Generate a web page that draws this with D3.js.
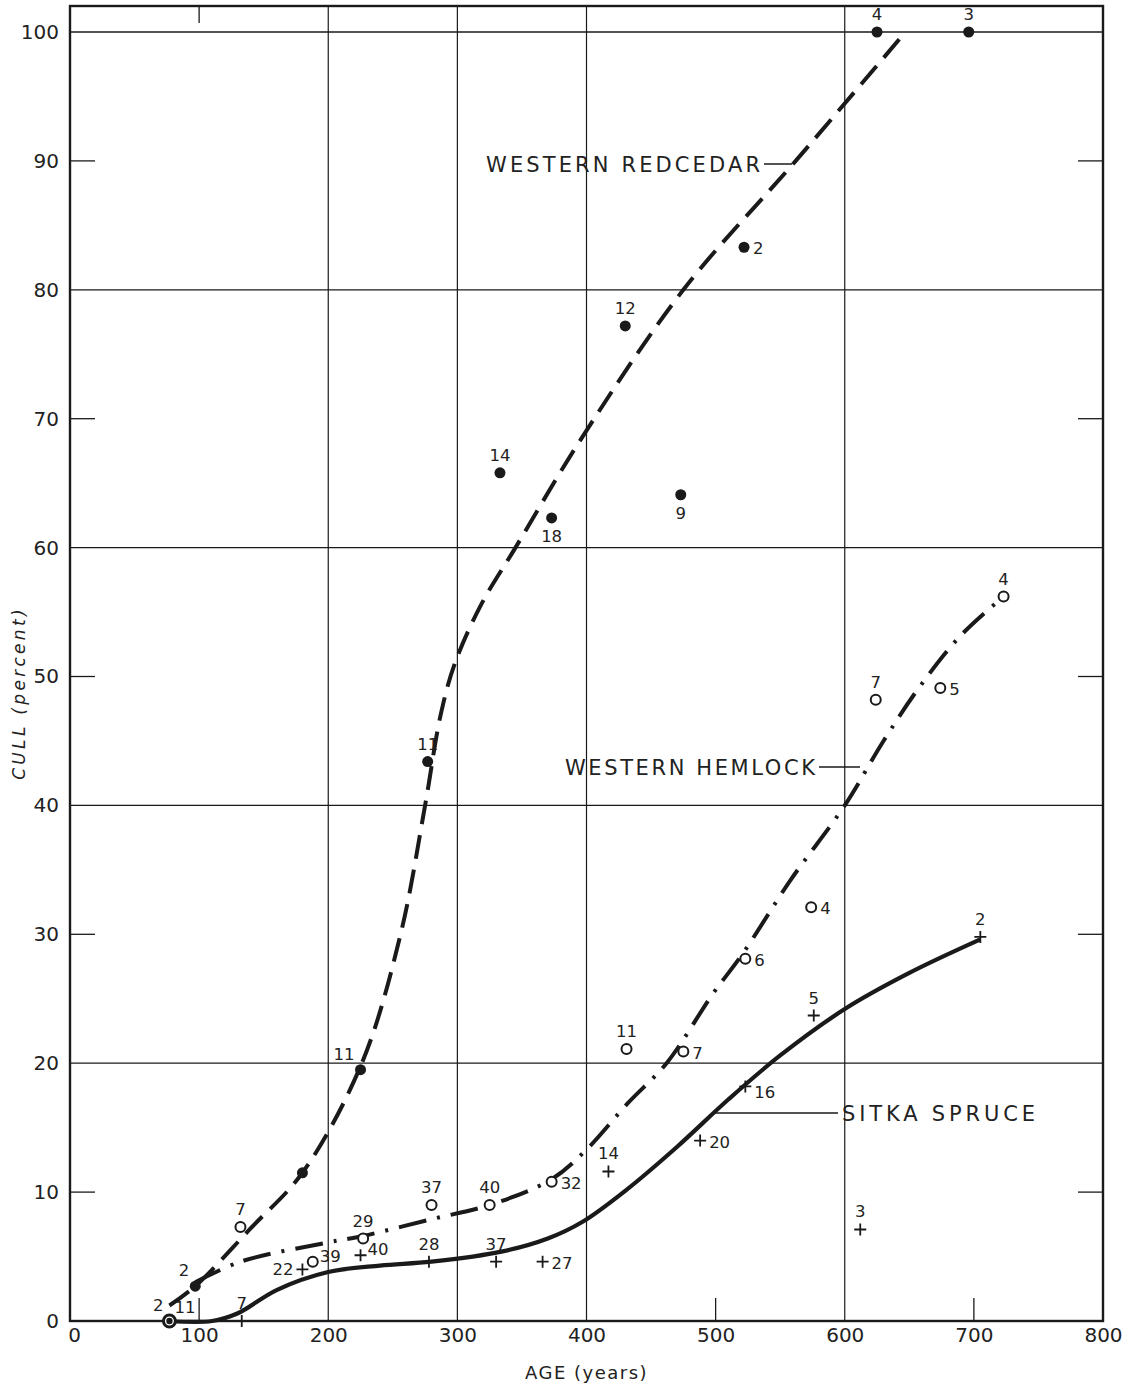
<!DOCTYPE html>
<html>
<head>
<meta charset="utf-8">
<script src="https://cdn.jsdelivr.net/npm/d3@7"></script>
<style>
  body { margin: 0; background: #fff; }
  text { font-family: "DejaVu Sans", sans-serif; fill: #222; }
</style>
</head>
<body>
<div id="chart"></div>
<script>
// observed points: [age, cull, trees]
const cedarPoints = [[77, 0, "2"], [97, 2.7, "2"], [180, 11.5, ""], [225, 19.5, "11"], [277, 43.4, "11"],
  [333, 65.8, "14"], [373, 62.3, "18"], [430, 77.2, "12"], [473, 64.1, "9"], [522, 83.3, "2"],
  [625, 100, "4"], [696, 100, "3"]];
const hemlockPoints = [[77, 0, "11"], [132, 7.3, "7"], [188, 4.6, "39"], [227, 6.4, "29"], [280, 9.0, "37"],
  [325, 9.0, "40"], [373, 10.8, "32"], [431, 21.1, "11"], [475, 20.9, "7"], [523, 28.1, "6"],
  [574, 32.1, "4"], [624, 48.2, "7"], [674, 49.1, "5"], [723, 56.2, "4"]];
const sprucePoints = [[133, 0, "7"], [180, 4.0, "22"], [225, 5.1, "40"], [278, 4.6, "28"], [330, 4.6, "37"],
  [366, 4.6, "27"], [417, 11.6, "14"], [488, 14.0, "20"], [523, 18.2, "16"], [576, 23.7, "5"],
  [612, 7.1, "3"], [705, 29.8, "2"]];

// label placement per point (same order as the points)
const cedarLabelPos = ["aboveLeft", "aboveLeft", "none", "aboveLeft", "above", "above", "below", "above", "below", "right", "above", "above"];
const hemlockLabelPos = ["aboveRight", "above", "rightHigh", "above", "above", "above", "right", "above", "right", "right", "right", "above", "right", "above"];
const spruceLabelPos = ["above", "left", "rightHigh", "above", "above", "right", "above", "right", "rightLow", "above", "above", "above"];

// hand-fitted curves
const cedarCurve = [[77, 1.2], [97, 2.7], [140, 7.2], [180, 11.5], [226, 20], [256, 30], [275, 40], [287, 47],
  [298, 51], [318, 55.5], [345, 60], [395, 68.3], [475, 80], [562, 90], [647, 100]];
const hemlockCurve = [[97, 3.0], [132, 4.6], [200, 6.1], [227, 6.6], [280, 7.9], [325, 9.0], [373, 11.0],
  [400, 13.3], [432, 16.9], [462, 20], [498, 25.4], [521, 28.5], [558, 34.2], [600, 40], [630, 45],
  [658, 49.2], [690, 53.2], [723, 56.2]];
const spruceCurve = [[77, 0], [110, 0], [130, 0.6], [160, 2.4], [200, 3.8], [240, 4.3], [280, 4.6], [335, 5.4],
  [370, 6.4], [397, 7.7], [430, 10.1], [470, 13.5], [510, 17.2], [550, 20.6], [600, 24.2], [650, 27.0], [705, 29.6]];

const xTicks = d3.range(0, 801, 100);
const yTicks = d3.range(0, 101, 10);
const xGrid = [200, 300, 400, 600];
const xShort = [100, 500, 700];
const yGrid = [20, 40, 60, 80, 100];
const yShort = [10, 30, 50, 70, 90];

const width = 1138, height = 1385;
const x = d3.scaleLinear().domain([0, 800]).range([70, 1103]);
const y = d3.scaleLinear().domain([0, 100]).range([1321, 32]);
const frameTop = 6;

const svg = d3.select("#chart").append("svg")
  .attr("width", width).attr("height", height);

const ink = "#1a1a1a";

// grid
svg.append("g").selectAll("line").data(yGrid).enter().append("line")
  .attr("x1", x(0)).attr("x2", x(800))
  .attr("y1", d => y(d)).attr("y2", d => y(d))
  .attr("stroke", ink).attr("stroke-width", 1.3);
svg.append("g").selectAll("line").data(xGrid).enter().append("line")
  .attr("x1", d => x(d)).attr("x2", d => x(d))
  .attr("y1", frameTop).attr("y2", y(0))
  .attr("stroke", ink).attr("stroke-width", 1.2);

// short ticks
yShort.forEach(v => {
  svg.append("line").attr("x1", x(0)).attr("x2", x(0) + 25).attr("y1", y(v)).attr("y2", y(v))
    .attr("stroke", ink).attr("stroke-width", 1.3);
  svg.append("line").attr("x1", x(800) - 25).attr("x2", x(800)).attr("y1", y(v)).attr("y2", y(v))
    .attr("stroke", ink).attr("stroke-width", 1.3);
});
xShort.forEach(v => {
  svg.append("line").attr("x1", x(v)).attr("x2", x(v)).attr("y1", y(0) - 23).attr("y2", y(0))
    .attr("stroke", ink).attr("stroke-width", 1.3);
});
svg.append("line").attr("x1", x(100)).attr("x2", x(100)).attr("y1", frameTop).attr("y2", frameTop + 17)
  .attr("stroke", ink).attr("stroke-width", 1.3);

// frame
svg.append("rect")
  .attr("x", x(0)).attr("y", frameTop)
  .attr("width", x(800) - x(0)).attr("height", y(0) - frameTop)
  .attr("fill", "none").attr("stroke", ink).attr("stroke-width", 2.4);

// axes labels
const yAxis = svg.append("g")
  .attr("transform", `translate(${x(0) - 8},0)`)
  .call(d3.axisLeft(y).tickValues(yTicks).tickSize(0));
yAxis.select(".domain").remove();
yAxis.selectAll("text").attr("font-size", 20).attr("fill", ink)
  .style("font-family", "'DejaVu Sans', sans-serif");

const xAxis = svg.append("g")
  .attr("transform", `translate(0,${y(0) + 4})`)
  .call(d3.axisBottom(x).tickValues(xTicks).tickSize(0));
xAxis.select(".domain").remove();
xAxis.selectAll("text").attr("font-size", 20).attr("fill", ink)
  .style("font-family", "'DejaVu Sans', sans-serif")
  .attr("dx", d => d === 0 ? 4 : 0);

svg.append("text")
  .attr("x", x(400)).attr("y", 1379)
  .attr("text-anchor", "middle").attr("font-size", 18)
  .attr("letter-spacing", 1.5)
  .text("AGE (years)");

svg.append("text")
  .attr("transform", `translate(25,${693}) rotate(-90)`)
  .attr("text-anchor", "middle").attr("font-size", 17)
  .attr("font-style", "italic").attr("letter-spacing", 3.3)
  .text("CULL (percent)");

// curves
const line = d3.line().x(d => x(d[0])).y(d => y(d[1])).curve(d3.curveCatmullRom.alpha(0.5));

svg.append("path").datum(cedarCurve)
  .attr("d", line).attr("fill", "none").attr("stroke", ink)
  .attr("stroke-width", 4).attr("stroke-dasharray", "24 11");

svg.append("path").datum(hemlockCurve)
  .attr("d", line).attr("fill", "none").attr("stroke", ink)
  .attr("stroke-width", 4).attr("stroke-dasharray", "28 11 3 11");

svg.append("path").datum(spruceCurve)
  .attr("d", line).attr("fill", "none").attr("stroke", ink)
  .attr("stroke-width", 4.2);

// markers
svg.append("g").selectAll("circle").data(hemlockPoints).enter().append("circle")
  .attr("cx", d => x(d[0])).attr("cy", d => y(d[1])).attr("r", d => d[1] === 0 ? 6 : 5)
  .attr("fill", "#fff").attr("stroke", ink).attr("stroke-width", d => d[1] === 0 ? 3 : 2);

svg.append("g").selectAll("circle").data(cedarPoints).enter().append("circle")
  .attr("cx", d => x(d[0])).attr("cy", d => y(d[1])).attr("r", d => d[1] === 0 ? 3.2 : 5.5)
  .attr("fill", ink);

svg.append("g").selectAll("path").data(sprucePoints).enter().append("path")
  .attr("transform", d => `translate(${x(d[0])},${y(d[1])})`)
  .attr("d", "M-6,0H6M0,-6V6")
  .attr("stroke", ink).attr("stroke-width", 1.8);

// point labels
const offsets = {
  above: [0, -12, "middle"],
  below: [0, 24, "middle"],
  right: [9, 7, "start"],
  rightLow: [9, 12, "start"],
  rightHigh: [7, 0, "start"],
  left: [-9, 6, "end"],
  aboveLeft: [-6, -10, "end"],
  aboveRight: [5, -8, "start"]
};

function addLabels(points, pos) {
  points.forEach((d, i) => {
    const o = offsets[pos[i]];
    if (!o || d[2] === "") return;
    svg.append("text")
      .attr("x", x(d[0]) + o[0]).attr("y", y(d[1]) + o[1])
      .attr("text-anchor", o[2]).attr("font-size", 16.5)
      .text(d[2]);
  });
}
addLabels(cedarPoints, cedarLabelPos);
addLabels(hemlockPoints, hemlockLabelPos);
addLabels(sprucePoints, spruceLabelPos);

// series names with leaders
function seriesName(label, tx, ty, len, lx1, lx2) {
  svg.append("text")
    .attr("x", tx).attr("y", ty + 7.5)
    .attr("font-size", 21)
    .attr("textLength", len).attr("lengthAdjust", "spacing")
    .text(label);
  svg.append("line")
    .attr("x1", lx1).attr("x2", lx2).attr("y1", ty).attr("y2", ty)
    .attr("stroke", ink).attr("stroke-width", 1.5);
}
seriesName("WESTERN REDCEDAR", 486, 164, 274, 764, 792);
seriesName("WESTERN HEMLOCK", 565, 767, 250, 819, 860);
seriesName("SITKA SPRUCE", 842, 1113, 193, 714, 838);
</script>
</body>
</html>
